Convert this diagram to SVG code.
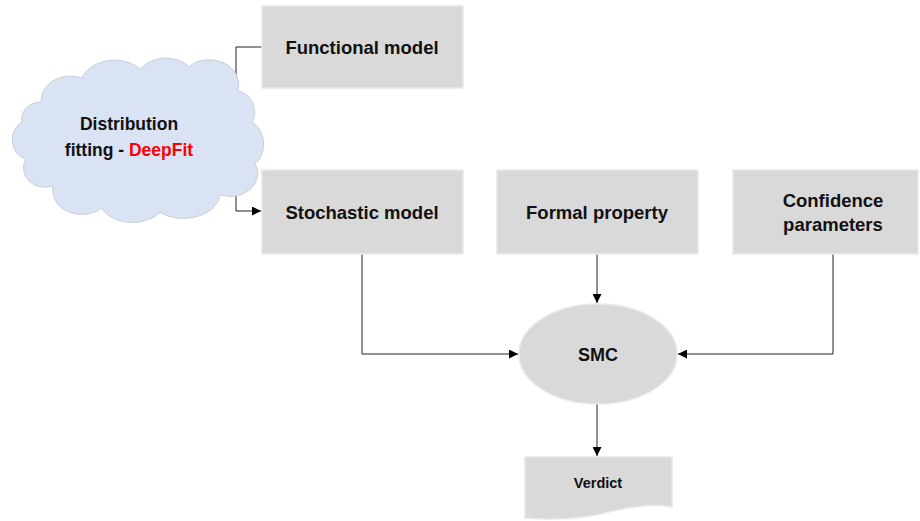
<svg xmlns="http://www.w3.org/2000/svg" width="920" height="521" viewBox="0 0 920 521">
<style>
.box{fill:#d9d9d9;stroke:#e8e8e8;stroke-width:1.5}
.t{font-family:"Liberation Sans",Arial,sans-serif;font-weight:bold;font-size:18.5px;fill:#111;text-anchor:middle}
.c{fill:none;stroke:#222;stroke-width:1}
</style>
<defs>
<marker id="arr" viewBox="0 0 10 10" refX="10" refY="5" markerWidth="9" markerHeight="9" markerUnits="userSpaceOnUse" orient="auto">
<path d="M0,0 L10,5 L0,10 Z" fill="#000"/>
</marker>
</defs>
<rect width="920" height="521" fill="#fff"/>
<g id="connectors">
<polyline class="c" points="236,78 236,47 262,47"/>
<polyline class="c" points="236,173 236,211 261,211" marker-end="url(#arr)"/>
<polyline class="c" points="362,254 362,354 518,354" marker-end="url(#arr)"/>
<polyline class="c" points="597,254 597,303" marker-end="url(#arr)"/>
<polyline class="c" points="833,254 833,354 678,354" marker-end="url(#arr)"/>
<polyline class="c" points="597,404 597,456" marker-end="url(#arr)"/>
</g>
<g id="cloud">
<path transform="translate(137.5,140) scale(0.973,0.883) translate(-137,-138)" vector-effect="non-scaling-stroke" d="M38,95 A30,28 0 0 1 80,68 A35,30 0 0 1 140,58 A30,25 0 0 1 190,55 A30,28 0 0 1 240,82 A22,25 0 0 1 255,118 A22,28 0 0 1 258,165 A28,26 0 0 1 222,200 A38,30 0 0 1 160,220 A35,28 0 0 1 100,215 A30,28 0 0 1 50,190 A22,22 0 0 1 22,160 A22,24 0 0 1 18,118 A20,20 0 0 1 38,95 Z" fill="#dae3f3" stroke="#c9cfd9" stroke-width="1"/>
<text class="t" x="129" y="130" style="font-size:17.5px">Distribution</text>
<text class="t" x="129" y="156" style="font-size:17.5px">fitting - <tspan fill="#ff0000">DeepFit</tspan></text>
</g>
<g id="functional">
<rect class="box" x="262" y="6" width="201" height="82"/>
<text class="t" x="362" y="54">Functional model</text>
</g>
<g id="stochastic">
<rect class="box" x="262" y="170" width="201" height="84"/>
<text class="t" x="362" y="219">Stochastic model</text>
</g>
<g id="formal">
<rect class="box" x="497" y="170" width="201" height="84"/>
<text class="t" x="597" y="219">Formal property</text>
</g>
<g id="confidence">
<rect class="box" x="733" y="170" width="185" height="84"/>
<text class="t" x="833" y="207">Confidence</text>
<text class="t" x="833" y="231">parameters</text>
</g>
<g id="smc">
<ellipse cx="598" cy="354" rx="79" ry="50" fill="#d9d9d9" stroke="#e8e8e8" stroke-width="1.5"/>
<text class="t" x="598" y="361" style="font-size:18px">SMC</text>
</g>
<g id="verdict">
<path d="M525,457 H672 V507 C648,503 625,508 600,514 C578,519 552,520 525,518 Z" fill="#d9d9d9" stroke="#e8e8e8" stroke-width="1.5"/>
<text class="t" x="598" y="488" style="font-size:14.5px">Verdict</text>
</g>
</svg>
